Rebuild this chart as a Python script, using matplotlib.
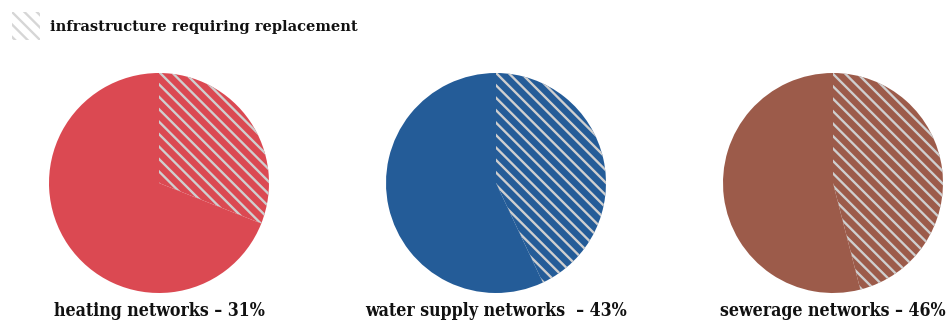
import matplotlib.pyplot as plt
from matplotlib.patches import Rectangle

# data
networks = ['heating networks – 31%', 'water supply networks  – 43%', 'sewerage networks – 46%']
replace_share = [31, 43, 46]
colors = ['#db4952', '#245c98', '#9c5b4a']
legend_label = 'infrastructure requiring replacement'

HATCH_COL = '#cfcfcf'
DPI = 112
plt.rcParams['hatch.linewidth'] = 1.5
plt.rcParams['font.family'] = ['DejaVu Serif']

W, H = 951, 321
fig = plt.figure(figsize=(W / DPI, H / DPI), dpi=DPI)

centers_x = [159, 496, 833]
cy, r = 183, 110

for cx, share, col, label in zip(centers_x, replace_share, colors, networks):
    ax = fig.add_axes([(cx - r) / W, (H - cy - r) / H, 2 * r / W, 2 * r / H])
    wedges, _ = ax.pie([share, 100 - share], startangle=90, counterclock=False,
                       colors=[col, col], radius=1,
                       wedgeprops=dict(linewidth=0, edgecolor=HATCH_COL))
    wedges[0].set_hatch('\\\\\\')
    ax.set_xlim(-1, 1)
    ax.set_ylim(-1, 1)
    fig.text(cx / W, 1 - 311 / H, label, ha='center', va='center',
             fontsize=11.3, fontweight='bold', fontstretch='condensed', color='#111111')

# legend
fig.patches.append(Rectangle((12 / W, 1 - 40 / H), 28 / W, 28 / H, transform=fig.transFigure,
                             facecolor='white', edgecolor='#d6d6d6', linewidth=0, hatch='\\\\\\'))
fig.text(50 / W, 1 - 27 / H, legend_label, ha='left', va='center',
         fontsize=9.4, fontweight='bold', color='#111111')

fig.savefig('out.png', dpi=DPI)
